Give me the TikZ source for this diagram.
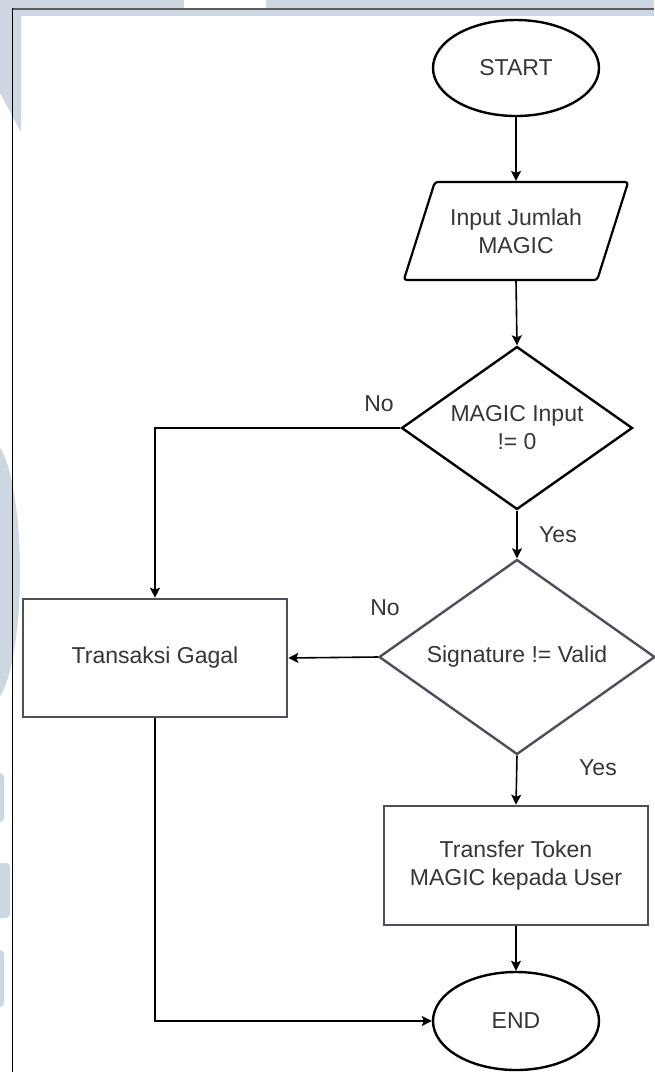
\documentclass[tikz,border=0pt]{standalone}
\usepackage{fontspec}
\setmainfont{Liberation Sans}
\usetikzlibrary{shapes.geometric,arrows.meta}
\definecolor{bg}{HTML}{CDD7E1}
\definecolor{framegrey}{HTML}{5A5A5A}
\definecolor{txtgrey}{HTML}{363636}
\definecolor{boxedge}{HTML}{4E4E5E}
\tikzset{
  txt/.style={text=txtgrey, font=\fontsize{23}{28}\selectfont, align=center, inner sep=0pt},
  term/.style={ellipse, draw=black, line width=2.4pt, fill=white, minimum width=166pt, minimum height=96pt, inner sep=0pt, txt},
  iobox/.style={trapezium, trapezium left angle=60.7, trapezium right angle=119.3, trapezium stretches=true,
     draw=black, line width=2.2pt, rounded corners=3pt, fill=white, minimum width=225pt, minimum height=98pt, inner sep=0pt, txt},
  decision/.style={diamond, draw=#1, line width=2.4pt, fill=white, inner sep=0pt},
  procbox/.style={rectangle, draw=boxedge, line width=2.6pt, fill=white, minimum width=264pt, minimum height=118pt, inner sep=0pt, txt},
  conn/.style={line width=1.6pt, draw=black, -{Stealth[length=10pt,width=10pt,inset=2pt]}},
  lbl/.style={txt}
}
\begin{document}
\begin{tikzpicture}[x=1pt,y=-1pt]
\useasboundingbox (0,0) rectangle (654,1072);
% background and frame
\fill[white] (0,0) rectangle (654,1072);
\fill[bg] (0,0) rectangle (654,16);
\fill[white] (184,0) rectangle (266,8);
\fill[bg] (0,0) -- (21,0) -- (21,132) -- (0,93) -- cycle;
\fill[bg] (-10,572) ellipse [x radius=30pt, y radius=132pt];
\fill[bg, rounded corners=4pt] (-10,773) rectangle (4,822);
\fill[bg, rounded corners=4pt] (-10,863) rectangle (10,918);
\fill[bg, rounded corners=4pt] (-10,950) rectangle (4,1007);
\draw[line width=2pt, framegrey] (12,8.5) -- (654,8.5);
\draw[line width=1.5pt, black] (12.5,8) -- (12.5,1072);

% flowchart nodes
\node[term] (start) at (516,68) {START};
\node[iobox] (inp) at (516,231) {Input Jumlah\\MAGIC};
\node[decision=black, minimum width=231pt, minimum height=163pt,
      label={[txt]center:MAGIC Input\\!= 0}] (d1) at (517,428) {};
\node[decision=boxedge, minimum width=276pt, minimum height=195pt,
      label={[txt]center:Signature != Valid}] (d2) at (517,657) {};
\node[procbox] (gagal) at (155,658) {Transaksi Gagal};
\node[procbox, minimum height=119pt] (trans) at (516,865.5) {Transfer Token\\MAGIC kepada User};
\node[term, minimum height=98pt] (end) at (516,1021) {END};

% labels
\node[lbl] (no1) at (379,404) {No};
\node[lbl] (yes1) at (558,535) {Yes};
\node[lbl] (no2) at (385,608) {No};
\node[lbl] (yes2) at (598,768) {Yes};

% connectors
\draw[conn] (start.south) -- (inp.north);
\draw[conn] (inp.south) -- (d1.north);
\draw[conn] (d1.west) -| (gagal.north);
\draw[conn] (d1.south) -- (d2.north);
\draw[conn] (d2.west) -- (gagal.east);
\draw[conn] (d2.south) -- (trans.north);
\draw[conn] (trans.south) -- (end.north);
\draw[conn] (gagal.south) |- (end.west);
\end{tikzpicture}
\end{document}
